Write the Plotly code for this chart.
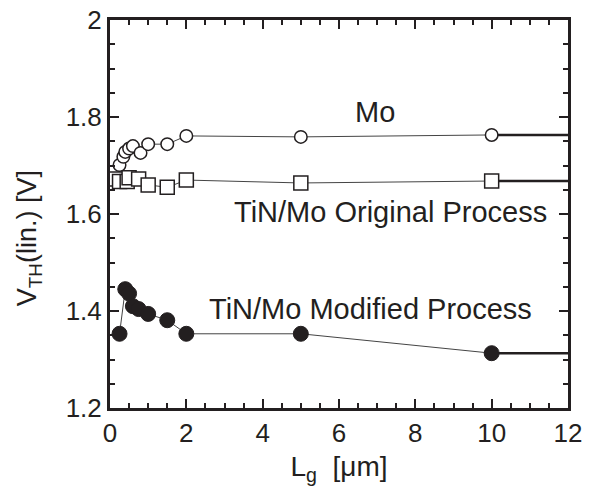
import plotly.graph_objects as go

# Data
mo_x = [0.25, 0.35, 0.4, 0.5, 0.6, 0.8, 1.0, 1.5, 2.0, 5.0, 10.0]
mo_y = [1.701, 1.718, 1.728, 1.735, 1.740, 1.726, 1.744, 1.744, 1.761, 1.759, 1.763]

orig_x = [0.15, 0.25, 0.45, 0.5, 0.75, 1.0, 1.5, 2.0, 5.0, 10.0]
orig_y = [1.672, 1.667, 1.667, 1.675, 1.672, 1.660, 1.655, 1.670, 1.664, 1.668]

mod_x = [0.25, 0.4, 0.5, 0.6, 0.75, 1.0, 1.5, 2.0, 5.0, 10.0]
mod_y = [1.353, 1.445, 1.436, 1.410, 1.404, 1.394, 1.381, 1.353, 1.353, 1.313]

x_end = 12
labels = ["Mo", "TiN/Mo Original Process", "TiN/Mo Modified Process"]
label_pos = [(6.94, 1.810), (7.36, 1.604), (6.83, 1.404)]

FONT = "Arial, Liberation Sans, sans-serif"
TXT = "#231f20"

fig = go.Figure()

series = [
    (mo_x, mo_y, dict(symbol="circle", size=12.5, color="white", line=dict(color=TXT, width=1.5))),
    (orig_x, orig_y, dict(symbol="square", size=14, color="white", line=dict(color=TXT, width=1.5))),
    (mod_x, mod_y, dict(symbol="circle", size=15, color=TXT, line=dict(color=TXT, width=1))),
]

for xs, ys, mk in series:
    # thick extension from last point to right edge
    fig.add_trace(go.Scatter(x=[xs[-1], x_end], y=[ys[-1], ys[-1]], mode="lines",
                             line=dict(color=TXT, width=2.5), showlegend=False,
                             hoverinfo="skip"))
    fig.add_trace(go.Scatter(x=xs, y=ys, mode="lines+markers",
                             line=dict(color="#444444", width=1), marker=mk,
                             showlegend=False, cliponaxis=False))

for txt, (ax, ay) in zip(labels, label_pos):
    fig.add_annotation(x=ax, y=ay, text=txt, showarrow=False,
                       font=dict(family=FONT, size=29, color=TXT),
                       xanchor="center", yanchor="middle")

# y-axis title as annotation for exact placement
fig.add_annotation(xref="paper", yref="paper", x=-0.175, y=0.437,
                   text="V<sub>TH</sub>(lin.) [V]", textangle=-90, showarrow=False,
                   font=dict(family=FONT, size=27, color=TXT),
                   xanchor="center", yanchor="middle")

axis_common = dict(showgrid=False, zeroline=False, showline=True, linecolor=TXT,
                   linewidth=3, mirror="allticks", ticks="inside", tickcolor=TXT,
                   tickwidth=2, ticklen=9, automargin=False, ticklabeloverflow="allow",
                   tickfont=dict(family=FONT, size=26, color=TXT))

fig.update_xaxes(range=[0, 12], dtick=2, tick0=0,
                 minor=dict(dtick=0.5, ticks="inside", ticklen=5, tickwidth=1.5, tickcolor=TXT),
                 title=dict(text="L<sub>g</sub>&nbsp; [μm]", font=dict(family=FONT, size=28, color=TXT),
                            standoff=10),
                 **axis_common)
fig.update_yaxes(range=[1.2, 2.0], dtick=0.2, tick0=1.2, tickformat=".1f",
                 minor=dict(dtick=0.05, ticks="inside", ticklen=5, tickwidth=1.5, tickcolor=TXT),
                 **axis_common)
fig.update_yaxes(labelalias={"2.0": "2"})

fig.update_layout(width=590, height=492, margin=dict(l=110, r=22, t=20, b=84),
                  plot_bgcolor="white", paper_bgcolor="white",
                  font=dict(family=FONT, color=TXT))

# remove the default 8px body margin so the figure sits at the page origin
fig.write_html("out.html", config={"displayModeBar": False},
               post_script="document.body.style.margin='0px';")
